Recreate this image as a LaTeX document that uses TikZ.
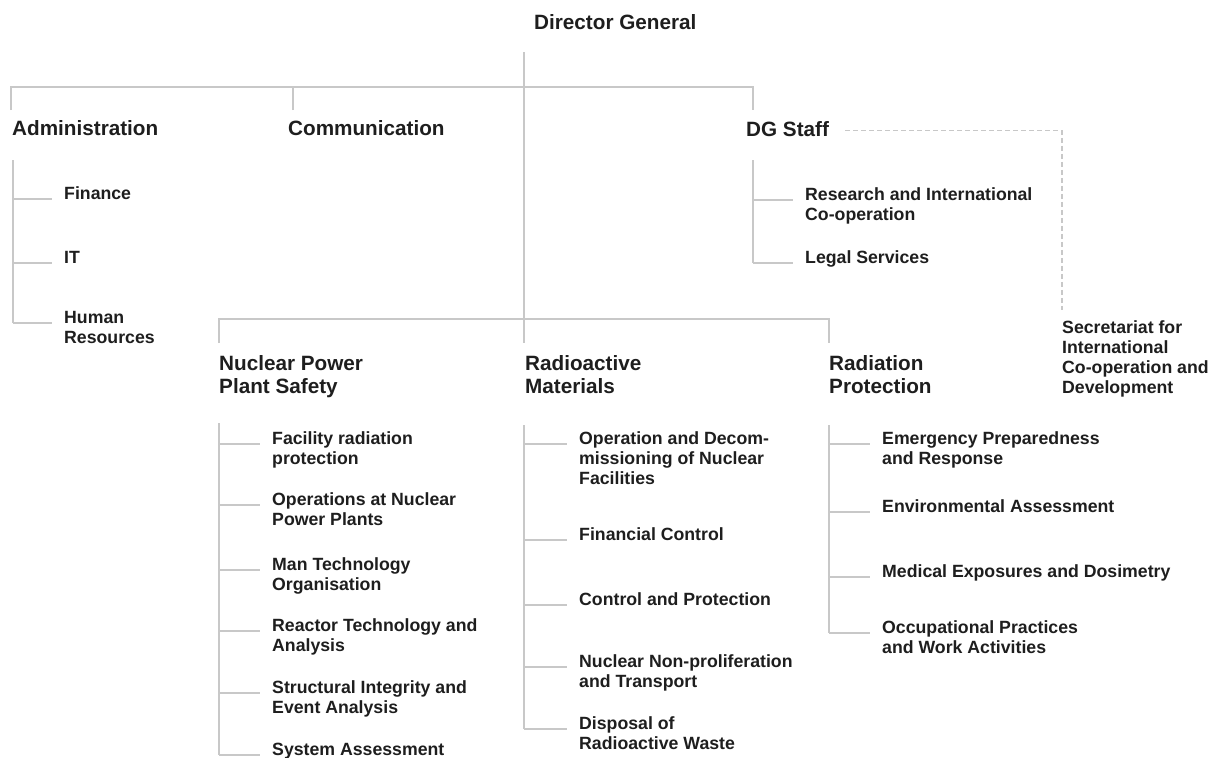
\documentclass[tikz,border=0pt]{standalone}
\usepackage{fontspec}
\setmainfont{Liberation Sans}

\definecolor{linegray}{RGB}{200,200,200}
\definecolor{inkgray}{RGB}{30,30,30}

% first line of a stack sits on the node's base
\newcommand\stacklines[1]{\begin{tabular}[t]{@{}l@{}}#1\end{tabular}}

\tikzset{
    orgline/.style={draw=linegray, line width=1.8pt},
    dashline/.style={orgline, line width=1.4pt, dash pattern=on 5pt off 3pt},
    head/.style={anchor=base west, inner sep=0pt, text=inkgray,
        font=\fontsize{20.7}{23}\selectfont\bfseries},
    unit/.style={anchor=base west, inner sep=0pt, text=inkgray,
        font=\fontsize{17.7}{20}\selectfont\bfseries},
}

\begin{document}
\begin{tikzpicture}[x=1pt, y=-1pt]
    \useasboundingbox[fill=white] (0,0) rectangle (1219,758);

    % heads
    \node[head] (dg) at (534,29) {Director General};
    \node[head] (adm) at (12,135) {Administration};
    \node[head] (com) at (288,135) {Communication};
    \node[head] (staff) at (746,136) {DG Staff};
    \node[head] (npps) at (219,370) {\stacklines{Nuclear Power\\Plant Safety}};
    \node[head] (rm) at (525,370) {\stacklines{Radioactive\\Materials}};
    \node[head] (rp) at (829,370) {\stacklines{Radiation\\Protection}};
    \node[unit] (sec) at (1062,333)
        {\stacklines{Secretariat for\\International\\Co-operation and\\Development}};

    % main tree
    \coordinate (dg-foot) at (524,52);
    \coordinate (bar) at (524,87);
    \coordinate (hub) at (524,319);
    \coordinate (adm-in) at (11,110);
    \coordinate (com-in) at (293,110);
    \coordinate (staff-in) at (753,110);
    \coordinate (npps-in) at (219,343);
    \coordinate (rm-in) at (524,343);
    \coordinate (rp-in) at (829,343);
    \draw[orgline] (dg-foot) -- (hub);
    \draw[orgline] (adm-in) |- (bar) -| (staff-in);
    \draw[orgline] (com-in) -- (com-in |- bar);
    \draw[orgline] (npps-in) |- (hub) -| (rp-in);
    \draw[orgline] (hub) -- (rm-in);
    \draw[dashline] ([xshift=16,yshift=-2]staff.east) -| ([yshift=9]sec.north west);

    % Administration
    \coordinate (adm-spine) at (13,160);
    \foreach \n/\y/\txt in {fin/199/Finance, it/263/IT, hr/323/{Human\\Resources}}{
        \node[unit] (\n) at (64,\y) {\stacklines{\txt}};
        \draw[orgline] (adm-spine |- \n.base) -- ([xshift=-12]\n.base west);
    }
    \draw[orgline] (adm-spine) -- (adm-spine |- hr.base);

    % DG Staff
    \coordinate (staff-spine) at (753,160);
    \foreach \n/\y/\txt in {ric/200/{Research and International\\Co-operation},
            legal/263/Legal Services}{
        \node[unit] (\n) at (805,\y) {\stacklines{\txt}};
        \draw[orgline] (staff-spine |- \n.base) -- ([xshift=-12]\n.base west);
    }
    \draw[orgline] (staff-spine) -- (staff-spine |- legal.base);

    % Nuclear Power Plant Safety
    \coordinate (npps-spine) at (219,423);
    \foreach \n/\y/\txt in {frp/444/{Facility radiation\\protection},
            onpp/505/{Operations at Nuclear\\Power Plants},
            mto/570/{Man Technology\\Organisation},
            rta/631/{Reactor Technology and\\Analysis},
            sie/693/{Structural Integrity and\\Event Analysis},
            sysa/755/System Assessment}{
        \node[unit] (\n) at (272,\y) {\stacklines{\txt}};
        \draw[orgline] (npps-spine |- \n.base) -- ([xshift=-12]\n.base west);
    }
    \draw[orgline] (npps-spine) -- (npps-spine |- sysa.base);

    % Radioactive Materials
    \coordinate (rm-spine) at (524,425);
    \foreach \n/\y/\txt in {odf/444/{Operation and Decom-\\missioning of Nuclear\\Facilities},
            finc/540/Financial Control,
            cap/605/Control and Protection,
            nnp/667/{Nuclear Non-proliferation\\and Transport},
            drw/729/{Disposal of\\Radioactive Waste}}{
        \node[unit] (\n) at (579,\y) {\stacklines{\txt}};
        \draw[orgline] (rm-spine |- \n.base) -- ([xshift=-12]\n.base west);
    }
    \draw[orgline] (rm-spine) -- (rm-spine |- drw.base);

    % Radiation Protection
    \coordinate (rp-spine) at (829,425);
    \foreach \n/\y/\txt in {epr/444/{Emergency Preparedness\\and Response},
            env/512/Environmental Assessment,
            med/577/Medical Exposures and Dosimetry,
            occ/633/{Occupational Practices\\and Work Activities}}{
        \node[unit] (\n) at (882,\y) {\stacklines{\txt}};
        \draw[orgline] (rp-spine |- \n.base) -- ([xshift=-12]\n.base west);
    }
    \draw[orgline] (rp-spine) -- (rp-spine |- occ.base);
\end{tikzpicture}
\end{document}
